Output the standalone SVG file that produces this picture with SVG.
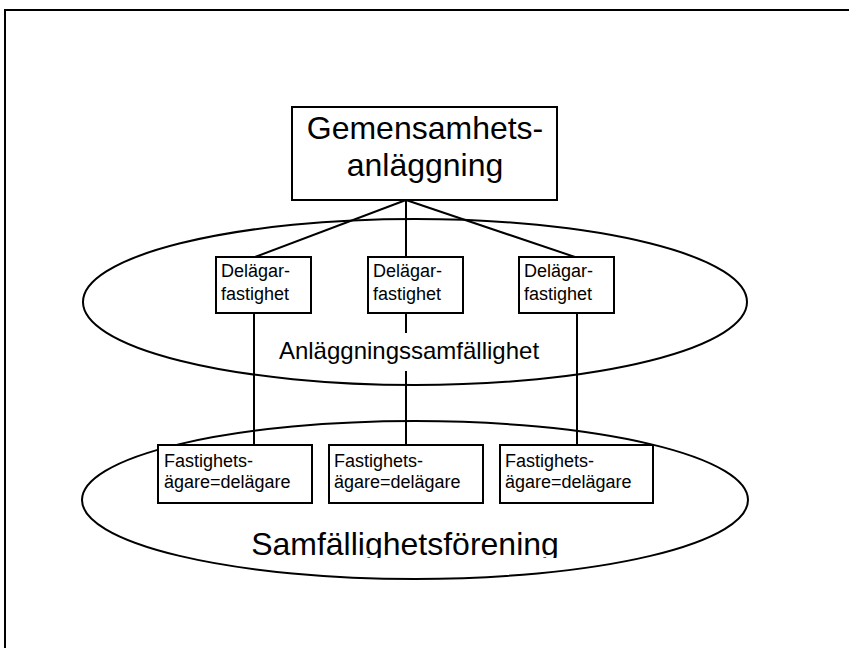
<svg xmlns="http://www.w3.org/2000/svg" width="849" height="648" viewBox="0 0 849 648">
<style>
.box{fill:#fff;stroke:#000;stroke-width:2}
.ell{fill:none;stroke:#000;stroke-width:2}
.ln{stroke:#000;stroke-width:2;fill:none}
text{font-family:"Liberation Sans",Arial,sans-serif;fill:#000}
.s{font-size:18px}
</style>
<defs>
<clipPath id="clipSam"><rect x="200" y="500" width="420" height="58"/></clipPath>
</defs>
<rect width="849" height="648" fill="#fff"/>
<path class="ln" d="M5,700 V10 H900"/>
<g id="ellipse-anlaggningssamfallighet"><ellipse class="ell" cx="415" cy="302" rx="332" ry="83"/></g>
<g id="ellipse-samfallighetsforening"><ellipse class="ell" cx="415" cy="500" rx="333" ry="79"/></g>
<g id="connectors">
<line class="ln" x1="406" y1="200" x2="255" y2="257"/>
<line class="ln" x1="406" y1="200" x2="406" y2="257"/>
<line class="ln" x1="406" y1="200" x2="575" y2="257"/>
<line class="ln" x1="254" y1="313" x2="254" y2="445"/>
<line class="ln" x1="406" y1="313" x2="406" y2="445"/>
<line class="ln" x1="577" y1="313" x2="577" y2="445"/>
</g>
<g id="label-anlaggningssamfallighet">
<rect x="278" y="333" width="262" height="38" fill="#fff"/>
<text x="409" y="359" font-size="24" text-anchor="middle">Anläggningssamfällighet</text>
</g>
<g id="node-gemensamhetsanlaggning">
<rect class="box" x="292" y="107" width="265" height="93"/>
<text x="425" y="139" font-size="32" text-anchor="middle">Gemensamhets-</text>
<text x="425" y="176" font-size="32" text-anchor="middle">anläggning</text>
</g>
<g id="node-delagar1">
<rect class="box" x="216" y="257" width="95" height="56"/>
<text class="s" x="221" y="277">Delägar-</text>
<text class="s" x="221" y="300">fastighet</text>
</g>
<g id="node-delagar2">
<rect class="box" x="368" y="257" width="95" height="56"/>
<text class="s" x="373" y="277">Delägar-</text>
<text class="s" x="373" y="300">fastighet</text>
</g>
<g id="node-delagar3">
<rect class="box" x="519" y="257" width="95" height="56"/>
<text class="s" x="524" y="277">Delägar-</text>
<text class="s" x="524" y="300">fastighet</text>
</g>
<g id="node-agare1">
<rect class="box" x="158" y="445" width="154" height="58"/>
<text class="s" x="164" y="467">Fastighets-</text>
<text class="s" x="164" y="488">ägare=delägare</text>
</g>
<g id="node-agare2">
<rect class="box" x="329" y="445" width="154" height="58"/>
<text class="s" x="334" y="467">Fastighets-</text>
<text class="s" x="334" y="488">ägare=delägare</text>
</g>
<g id="node-agare3">
<rect class="box" x="500" y="445" width="153" height="58"/>
<text class="s" x="505" y="467">Fastighets-</text>
<text class="s" x="505" y="488">ägare=delägare</text>
</g>
<g id="label-samfallighetsforening">
<text x="405" y="555" font-size="32" text-anchor="middle" clip-path="url(#clipSam)">Samfällighetsförening</text>
</g>
</svg>
